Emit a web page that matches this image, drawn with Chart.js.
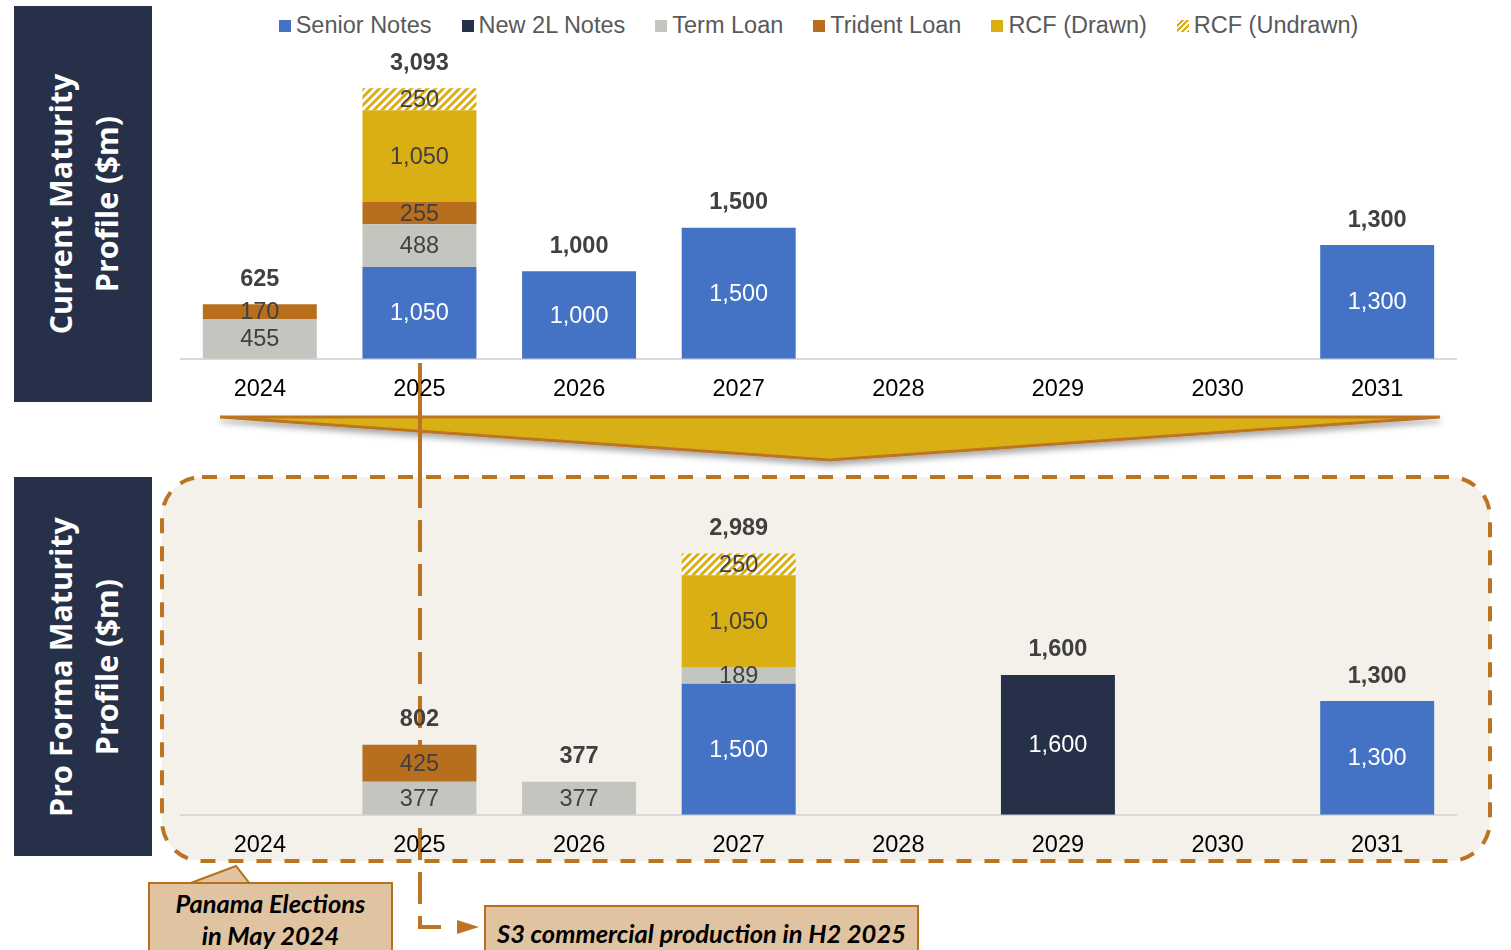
<!DOCTYPE html>
<html>
<head>
<meta charset="utf-8">
<title>Maturity Profile</title>
<script src="https://cdn.jsdelivr.net/npm/chart.js@4.4.1/dist/chart.umd.min.js"></script>
<style>
  body { margin: 0; width: 1511px; height: 950px; position: relative; overflow: hidden; background: #fff; font-family: "Liberation Sans", Arial, sans-serif; }
  .side { position: absolute; left: 14px; width: 138px; background: #263149; }
  .side span { position: absolute; left: 50%; top: 50%; transform: translate(-50%, -50%) rotate(-90deg); white-space: nowrap; color: #fff; font: bold 30.5px "Open Sans", sans-serif; line-height: 46px; text-align: center; }
  #deco { position: absolute; left: 0; top: 0; }
  canvas { position: absolute; }
  #legend { position: absolute; left: 180px; top: 12px; width: 1277px; display: flex; justify-content: center; gap: 30px; font-size: 23.5px; color: #595959; }
  #legend div { display: flex; align-items: center; }
  #legend i { display: inline-block; width: 12px; height: 12px; margin-right: 5px; }
  .note { position: absolute; background: #E0C4A1; border: 2px solid #B8701E; box-sizing: border-box; font: italic bold 25.5px Lato, sans-serif; color: #000; text-align: center; }
</style>
</head>
<body>

<svg id="deco" width="1511" height="950">
  <defs>
    <filter id="shadow" x="-5%" y="-20%" width="110%" height="160%">
      <feDropShadow dx="0" dy="4" stdDeviation="3" flood-color="#000" flood-opacity="0.35"/>
    </filter>
  </defs>
  <rect x="162" y="477" width="1328" height="384" rx="40" ry="40" fill="#F4F1EA" stroke="#BC7422" stroke-width="4" stroke-dasharray="15 13"/>
  <polygon points="220,417 1440,417 829,460" fill="#D9AF14" stroke="#BC7422" stroke-width="3" filter="url(#shadow)"/>
  <line x1="420" y1="363" x2="420" y2="476" stroke="#BC7422" stroke-width="4"/>
  <polyline points="420,476 420,927 446,927" fill="none" stroke="#BC7422" stroke-width="4" stroke-dasharray="32 12"/>
  <polygon points="457,920 479,927 457,934" fill="#BC7422"/>
  <polygon points="188,884 236,866 250,884" fill="#E0C4A1" stroke="#B8701E" stroke-width="2"/>
</svg>

<div class="side" style="top:6px;height:396px;"><span>Current Maturity<br>Profile ($m)</span></div>
<div class="side" style="top:477px;height:379px;"><span>Pro Forma Maturity<br>Profile ($m)</span></div>

<div id="legend"></div>

<canvas id="currentChart" width="1277" height="421" style="left:180px;top:0;"></canvas>
<canvas id="proFormaChart" width="1277" height="397" style="left:180px;top:480px;"></canvas>

<div class="note" style="left:148px;top:882px;width:245px;height:80px;line-height:32px;padding-top:3px;">Panama Elections<br>in May 2024</div>
<div class="note" style="left:484px;top:905px;width:435px;height:60px;line-height:52px;">S3 commercial production in H2 2025</div>

<script>
const years = ['2024', '2025', '2026', '2027', '2028', '2029', '2030', '2031'];
const seriesNames = ['Senior Notes', 'New 2L Notes', 'Term Loan', 'Trident Loan', 'RCF (Drawn)', 'RCF (Undrawn)'];

// current maturity profile ($m)
const curSenior   = [0, 1050, 1000, 1500, 0, 0, 0, 1300];
const curNew2L    = [0, 0, 0, 0, 0, 0, 0, 0];
const curTerm     = [455, 488, 0, 0, 0, 0, 0, 0];
const curTrident  = [170, 255, 0, 0, 0, 0, 0, 0];
const curRcfDrawn = [0, 1050, 0, 0, 0, 0, 0, 0];
const curRcfUndrawn = [0, 250, 0, 0, 0, 0, 0, 0];

// pro forma maturity profile ($m)
const pfSenior   = [0, 0, 0, 1500, 0, 0, 0, 1300];
const pfNew2L    = [0, 0, 0, 0, 0, 1600, 0, 0];
const pfTerm     = [0, 377, 377, 189, 0, 0, 0, 0];
const pfTrident  = [0, 425, 0, 0, 0, 0, 0, 0];
const pfRcfDrawn = [0, 0, 0, 1050, 0, 0, 0, 0];
const pfRcfUndrawn = [0, 0, 0, 250, 0, 0, 0, 0];

const colors = ['#4472C4', '#263149', '#C5C5C0', '#B86F1D', '#D9AF14', null];
const textColors = ['#fff', '#fff', '#404040', '#404040', '#404040', '#404040'];
const FONT = '"Liberation Sans", Arial, sans-serif';

function hatchPattern() {
    const c = document.createElement('canvas');
    c.width = 8; c.height = 8;
    const g = c.getContext('2d');
    g.fillStyle = '#fff';
    g.fillRect(0, 0, 8, 8);
    g.strokeStyle = '#D9AF14';
    g.lineWidth = 3;
    g.beginPath();
    g.moveTo(-2, 10); g.lineTo(10, -2);
    g.moveTo(-2, 2); g.lineTo(2, -2);
    g.moveTo(6, 10); g.lineTo(10, 6);
    g.stroke();
    return g.createPattern(c, 'repeat');
}
const hatch = hatchPattern();

// html legend
const legend = document.getElementById('legend');
seriesNames.forEach((name, i) => {
    const item = document.createElement('div');
    const box = document.createElement('i');
    if (colors[i]) box.style.background = colors[i];
    else box.style.background = 'repeating-linear-gradient(-45deg, #D9AF14 0 2px, #fff 2px 4px)';
    item.appendChild(box);
    item.appendChild(document.createTextNode(name));
    legend.appendChild(item);
});

const fmt = v => v.toLocaleString('en-US');

const valueLabels = {
    id: 'valueLabels',
    afterDatasetsDraw(chart) {
        const ctx = chart.ctx;
        const tops = [];
        ctx.save();
        ctx.textAlign = 'center';
        ctx.textBaseline = 'middle';
        ctx.font = '23.5px ' + FONT;
        chart.data.datasets.forEach((ds, i) => {
            chart.getDatasetMeta(i).data.forEach((bar, j) => {
                const v = ds.data[j];
                if (!v) return;
                ctx.fillStyle = textColors[i];
                ctx.fillText(fmt(v), bar.x, (bar.y + bar.base) / 2 + 1);
                if (tops[j] === undefined || bar.y < tops[j]) tops[j] = bar.y;
            });
        });
        ctx.font = 'bold 23.5px ' + FONT;
        ctx.fillStyle = '#404040';
        tops.forEach((y, j) => {
            if (y === undefined) return;
            const total = chart.data.datasets.reduce((s, d) => s + (d.data[j] || 0), 0);
            ctx.fillText(fmt(total), chart.scales.x.getPixelForValue(j), y - 25);
        });
        ctx.restore();
    }
};

function makeChart(id, series, padTop) {
    const ctx = document.getElementById(id).getContext('2d');
    return new Chart(ctx, {
        type: 'bar',
        data: {
            labels: years,
            datasets: series.map((d, i) => ({
                label: seriesNames[i],
                data: d,
                backgroundColor: colors[i] || hatch,
                borderWidth: 0,
                categoryPercentage: 1,
                barPercentage: 0.714
            }))
        },
        options: {
            responsive: false,
            animation: false,
            layout: { padding: { top: padTop, left: 0, right: 0, bottom: 0 } },
            plugins: { legend: { display: false }, tooltip: { enabled: false } },
            scales: {
                x: {
                    stacked: true,
                    grid: { display: false, drawTicks: false },
                    border: { color: '#D9D9D9', width: 2 },
                    ticks: { color: '#000', padding: 17, font: { size: 23.5, family: FONT } }
                },
                y: { stacked: true, display: false, min: 0, max: 3600 }
            }
        },
        plugins: [valueLabels]
    });
}

document.addEventListener('DOMContentLoaded', () => {
    makeChart('currentChart', [curSenior, curNew2L, curTerm, curTrident, curRcfDrawn, curRcfUndrawn], 44);
    makeChart('proFormaChart', [pfSenior, pfNew2L, pfTerm, pfTrident, pfRcfDrawn, pfRcfUndrawn], 20);
});
</script>
</body>
</html>
